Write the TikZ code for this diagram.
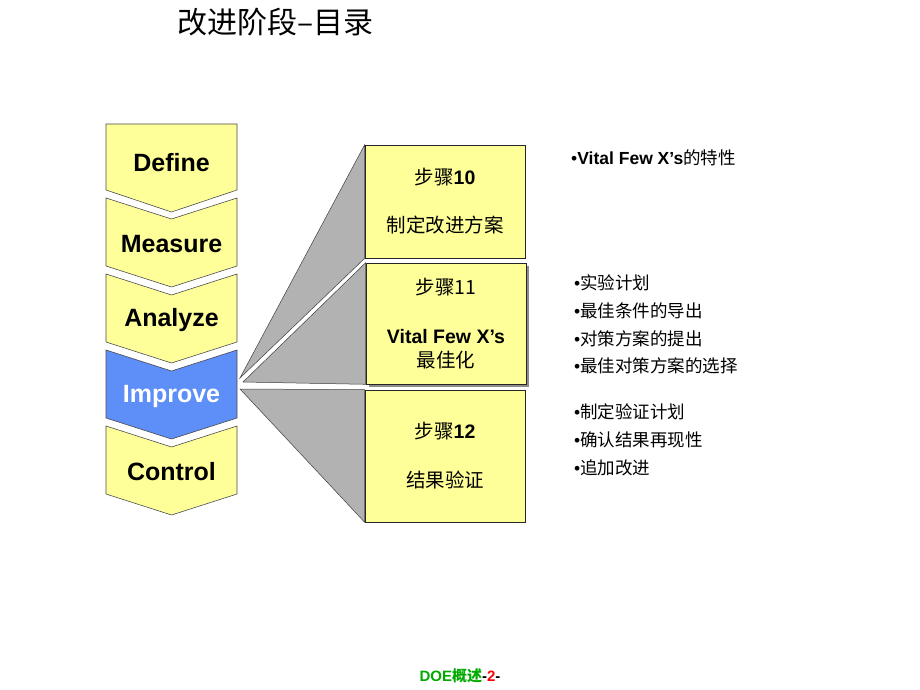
\documentclass[tikz,border=0pt]{standalone}
\usepackage{fontspec}
\setmainfont{Liberation Sans}
\newfontfamily\cjk{Noto Sans CJK SC}
\usetikzlibrary{shadows}
\definecolor{chevyellow}{RGB}{255,255,153}
\definecolor{chevblue}{RGB}{94,142,247}
\definecolor{fangray}{RGB}{178,178,178}
\definecolor{footgreen}{RGB}{0,170,0}
\tikzset{
	chevron/.style={draw=black!70, line width=0.6pt, fill=chevyellow},
	phase/.style={font=\fontsize{25}{29}\selectfont\bfseries},
	stepbox/.style={draw=black!85, line width=0.6pt, fill=chevyellow, minimum width=160pt, align=center, font=\fontsize{19.5}{24}\selectfont, inner sep=0pt},
	fan/.style={fill=fangray, draw=black!75, line width=0.5pt},
	item/.style={anchor=west, font=\fontsize{17.5}{21}\selectfont, inner sep=0pt}
}

\begin{document}
\begin{tikzpicture}[x=1pt, y=-1pt]
			%%%%% START %%%%%
			\useasboundingbox (0, 0) rectangle (920, 690);
			
			\node[anchor=west, inner sep=0pt, font=\fontsize{30}{34}\selectfont\cjk] (title) at (177, 22) {改进阶段–目录};
			
			% DMAIC chevrons
			\draw[chevron] (106, 124) -- (237, 124) -- (237, 190) -- (171.5, 212) -- (106, 190) -- cycle;
			\node[phase] (define) at (171.5, 163) {Define};
			
			\foreach \t/\name/\txt in {198/measure/Measure, 274/analyze/Analyze, 426/control/Control}{
				\draw[chevron] (106, \t) -- (171.5, \t+21) -- (237, \t) -- (237, \t+68) -- (171.5, \t+89) -- (106, \t+68) -- cycle;
				\node[phase] (\name) at (171.5, \t+46) {\txt};
			}
			
			\draw[chevron, fill=chevblue] (106, 350) -- (171.5, 371) -- (237, 350) -- (237, 418) -- (171.5, 439) -- (106, 418) -- cycle;
			\node[phase, text=white] (improve) at (171.5, 396) {Improve};
			
			% fans
			\coordinate (apexa) at (240, 378);
			\coordinate (apexb) at (243, 382);
			\coordinate (apexc) at (240, 389);
			
			\node[stepbox, minimum height=113pt] (step10) at (445, 201.5) {};
			\node[stepbox, minimum height=121pt] (step11) at (446, 323.5) {};
			\node[stepbox, minimum height=132pt] (step12) at (445, 456) {};
			
			\draw[fan] (apexa) -- (step10.north west) -- (step10.south west) -- cycle;
			\draw[fan] (apexb) -- (step11.north west) -- (step11.south west) -- cycle;
			\draw[fan] (apexc) -- (step12.north west) -- (step12.south west) -- cycle;
			
			% step boxes
			\node[stepbox, minimum height=113pt] (box10) at (445, 201.5) {{\cjk 步骤}\textbf{10}\\[24pt]{\cjk 制定改进方案}};
			\node[stepbox, minimum height=121pt, drop shadow={shadow xshift=3pt, shadow yshift=-3pt, fill=black!45, opacity=1}] (box11) at (446, 323.5) {{\cjk 步骤11}\\[25pt]\textbf{Vital Few X’s}\\[0pt]{\cjk 最佳化}};
			\node[stepbox, minimum height=132pt] (box12) at (445, 456) {{\cjk 步骤}\textbf{12}\\[25pt]{\cjk 结果验证}};
			
			% notes
			\node[item] (note10) at (571, 158) {•\textbf{Vital Few X’s}{\cjk 的特性}};
			
			\node[item] (note11a) at (574, 283) {•{\cjk 实验计划}};
			\node[item] (note11b) at (574, 311) {•{\cjk 最佳条件的导出}};
			\node[item] (note11c) at (574, 339) {•{\cjk 对策方案的提出}};
			\node[item] (note11d) at (574, 366) {•{\cjk 最佳对策方案的选择}};
			
			\node[item] (note12a) at (574, 412) {•{\cjk 制定验证计划}};
			\node[item] (note12b) at (574, 440) {•{\cjk 确认结果再现性}};
			\node[item] (note12c) at (574, 468) {•{\cjk 追加改进}};
			
			\node[font=\fontsize{15}{17}\selectfont\bfseries, text=footgreen] (footer) at (460, 676) {DOE{\cjk 概述}\textcolor{black}{-}\textcolor{red}{2}\textcolor{black}{-}};
			
			%%%%% END %%%%%
\end{tikzpicture}
\end{document}
